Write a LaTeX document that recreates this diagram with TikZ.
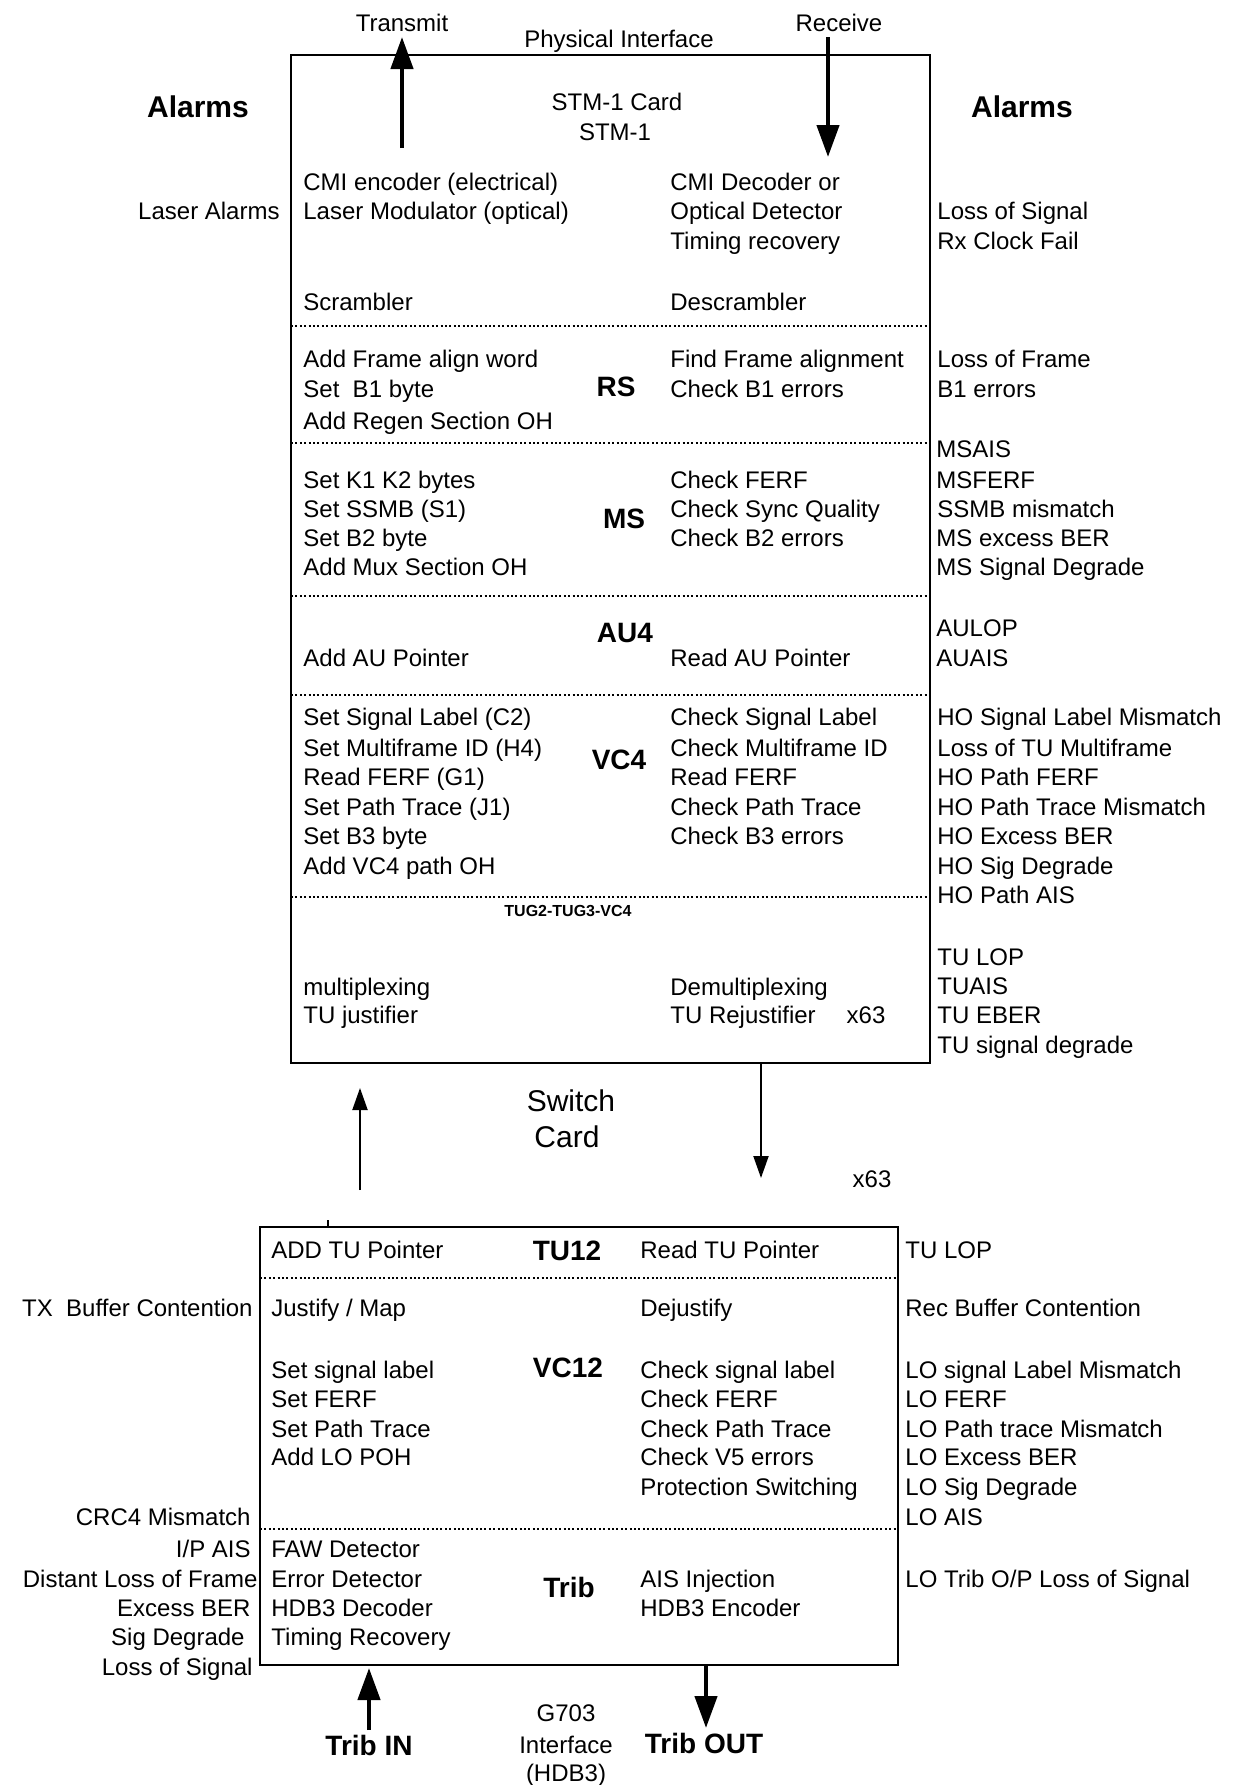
\documentclass[tikz,border=0pt]{standalone}
\usepackage{fontspec}
\setmainfont{Liberation Sans}
\usetikzlibrary{arrows.meta}
\tikzset{
  txt/.style={inner sep=0pt, font=\fontsize{12}{14}\selectfont, yshift=-4.3pt},
  lt/.style={txt, anchor=base west},
  rt/.style={txt, anchor=base east},
  ct/.style={txt, anchor=base},
  sect/.style={inner sep=0pt, anchor=base, font=\fontsize{14}{16}\selectfont\bfseries, yshift=-5pt},
  big/.style={inner sep=0pt, anchor=base, font=\fontsize{15}{17}\selectfont\bfseries, yshift=-5.4pt},
  card/.style={inner sep=0pt, anchor=base, font=\fontsize{15}{17}\selectfont, yshift=-5.4pt},
  tinylbl/.style={inner sep=0pt, anchor=base, font=\fontsize{8}{9}\selectfont\bfseries, yshift=-2.9pt},
  boxnode/.style={draw, line width=1pt, inner sep=0pt, outer sep=0pt},
  sepline/.style={line width=0.6pt, dash pattern=on 1pt off 1.2pt},
  fat/.style={line width=2.2pt, -{Triangle[length=16pt,width=11pt]}},
  slim/.style={line width=1pt, -{Triangle[length=11pt,width=7.5pt]}},
}
\begin{document}
\begin{tikzpicture}[x=0.5pt,y=-0.5pt]
\useasboundingbox (0,0) rectangle (1245,1785);

% ---------- boxes ----------
\node[boxnode, minimum width=319.5pt, minimum height=504pt] (stm) at (610.5,559) {};
\node[boxnode, minimum width=319pt, minimum height=219pt] (trib) at (579,1446) {};

% separators top box
\foreach \yy in {326,443,596,695,897}
  \draw[sepline] (stm.west |- 0,\yy) -- (stm.east |- 0,\yy);
% separators bottom box
\foreach \yy in {1278,1529}
  \draw[sepline] (trib.west |- 0,\yy) -- (trib.east |- 0,\yy);

% ---------- top labels ----------
\node[ct] (transmit) at (402,23) {Transmit};
\node[ct] (receive) at (839,23) {Receive};
\node[ct] (phys) at (619,39) {Physical Interface};
\node[big] (alarmsL) at (198,107) {Alarms};
\node[big] (alarmsR) at (1022,107) {Alarms};
\node[ct] (stmcard) at (617,102) {STM-1 Card};
\node[ct] (stmone) at (615,132) {STM-1};

% arrows top
\coordinate (txs) at (402,148);
\coordinate (txe) at (402,37);
\draw[fat] (txs) -- (txe);
\coordinate (rxs) at (828,37);
\coordinate (rxe) at (828,157);
\draw[fat] (rxs) -- (rxe);

% ---------- top box, left column ----------
\node[lt] (l1) at (303,182) {CMI encoder (electrical)};
\node[lt] (l2) at (303,211) {Laser Modulator (optical)};
\node[lt] (l3) at (303,302) {Scrambler};
\node[lt] (l4) at (303,359) {Add Frame align word};
\node[lt] (l5) at (303,389) {Set\ \ B1 byte};
\node[lt] (l6) at (303,421) {Add Regen Section OH};
\node[lt] (l7) at (303,480) {Set K1 K2 bytes};
\node[lt] (l8) at (303,509) {Set SSMB (S1)};
\node[lt] (l9) at (303,538) {Set B2 byte};
\node[lt] (l10) at (303,567) {Add Mux Section OH};
\node[lt] (l11) at (303,658) {Add AU Pointer};
\node[lt] (l12) at (303,717) {Set Signal Label (C2)};
\node[lt] (l13) at (303,748) {Set Multiframe ID (H4)};
\node[lt] (l14) at (303,777) {Read FERF (G1)};
\node[lt] (l15) at (303,807) {Set Path Trace (J1)};
\node[lt] (l16) at (303,836) {Set B3 byte};
\node[lt] (l17) at (303,866) {Add VC4 path OH};
\node[lt] (l18) at (303,987) {multiplexing};
\node[lt] (l19) at (303,1015) {TU justifier};

% ---------- top box, right column ----------
\node[lt] (r1) at (670,182) {CMI Decoder or};
\node[lt] (r2) at (670,211) {Optical Detector};
\node[lt] (r3) at (670,241) {Timing recovery};
\node[lt] (r4) at (670,302) {Descrambler};
\node[lt] (r5) at (670,359) {Find Frame alignment};
\node[lt] (r6) at (670,389) {Check B1 errors};
\node[lt] (r7) at (670,480) {Check FERF};
\node[lt] (r8) at (670,509) {Check Sync Quality};
\node[lt] (r9) at (670,538) {Check B2 errors};
\node[lt] (r10) at (670,658) {Read AU Pointer};
\node[lt] (r11) at (670,717) {Check Signal Label};
\node[lt] (r12) at (670,748) {Check Multiframe ID};
\node[lt] (r13) at (670,777) {Read FERF};
\node[lt] (r14) at (670,807) {Check Path Trace};
\node[lt] (r15) at (670,836) {Check B3 errors};
\node[lt] (r16) at (670,987) {Demultiplexing};
\node[lt] (r17) at (670,1015) {TU Rejustifier};
\node[ct] (r18) at (866,1015) {x63};

% section labels top box
\node[sect] (rs) at (616,386) {RS};
\node[sect] (ms) at (624,518) {MS};
\node[sect] (au4) at (625,632) {AU4};
\node[sect] (vc4) at (619,759) {VC4};
\node[tinylbl] (tug) at (568,911) {TUG2-TUG3-VC4};

% ---------- top right alarms ----------
\node[lt] (a1) at (937,211) {Loss of Signal};
\node[lt] (a2) at (937,241) {Rx Clock Fail};
\node[lt] (a3) at (937,359) {Loss of Frame};
\node[lt] (a4) at (937,389) {B1 errors};
\node[lt] (a5) at (936,449) {MSAIS};
\node[lt] (a6) at (936,480) {MSFERF};
\node[lt] (a7) at (937,509) {SSMB mismatch};
\node[lt] (a8) at (936,538) {MS excess BER};
\node[lt] (a9) at (936,567) {MS Signal Degrade};
\node[lt] (a10) at (936,628) {AULOP};
\node[lt] (a11) at (936,658) {AUAIS};
\node[lt] (a12) at (937,717) {HO Signal Label Mismatch};
\node[lt] (a13) at (937,748) {Loss of TU Multiframe};
\node[lt] (a14) at (937,777) {HO Path FERF};
\node[lt] (a15) at (937,807) {HO Path Trace Mismatch};
\node[lt] (a16) at (937,836) {HO Excess BER};
\node[lt] (a17) at (937,866) {HO Sig Degrade};
\node[lt] (a18) at (937,895) {HO Path AIS};
\node[lt] (a19) at (937,957) {TU LOP};
\node[lt] (a20) at (937,986) {TUAIS};
\node[lt] (a21) at (937,1015) {TU EBER};
\node[lt] (a22) at (937,1045) {TU signal degrade};

\node[rt] (laser) at (280,211) {Laser Alarms};

% ---------- switch card ----------
\node[card] (switch) at (571,1101) {Switch};
\node[card] (cardl) at (567,1137) {Card};
\node[ct] (x63b) at (872,1179) {x63};
\coordinate (ups) at (360,1190);
\coordinate (upe) at (360,1088);
\draw[slim] (ups) -- (upe);
\coordinate (dns) at (761,1063);
\coordinate (dne) at (761,1178);
\draw[slim] (dns) -- (dne);
\coordinate (tick) at (328,1220);
\draw[line width=1pt] (tick) -- (tick |- trib.north);

% ---------- bottom box ----------
\node[sect] (tu12) at (567,1250) {TU12};
\node[sect] (vc12) at (568,1367) {VC12};
\node[sect] (tribl) at (569,1587) {Trib};

\node[lt] (bl1) at (271,1250) {ADD TU Pointer};
\node[lt] (bl2) at (271,1308) {Justify / Map};
\node[lt] (bl3) at (271,1370) {Set signal label};
\node[lt] (bl4) at (271,1399) {Set FERF};
\node[lt] (bl5) at (271,1429) {Set Path Trace};
\node[lt] (bl6) at (271,1457) {Add LO POH};
\node[lt] (bl7) at (271,1549) {FAW Detector};
\node[lt] (bl8) at (271,1579) {Error Detector};
\node[lt] (bl9) at (271,1608) {HDB3 Decoder};
\node[lt] (bl10) at (271,1637) {Timing Recovery};

\node[lt] (br1) at (640,1250) {Read TU Pointer};
\node[lt] (br2) at (640,1308) {Dejustify};
\node[lt] (br3) at (640,1370) {Check signal label};
\node[lt] (br4) at (640,1399) {Check FERF};
\node[lt] (br5) at (640,1429) {Check Path Trace};
\node[lt] (br6) at (640,1457) {Check V5 errors};
\node[lt] (br7) at (640,1487) {Protection Switching};
\node[lt] (br8) at (640,1579) {AIS Injection};
\node[lt] (br9) at (640,1608) {HDB3 Encoder};

\node[lt] (ba1) at (905,1250) {TU LOP};
\node[lt] (ba2) at (905,1308) {Rec Buffer Contention};
\node[lt] (ba3) at (905,1370) {LO signal Label Mismatch};
\node[lt] (ba4) at (905,1399) {LO FERF};
\node[lt] (ba5) at (905,1429) {LO Path trace Mismatch};
\node[lt] (ba6) at (905,1457) {LO Excess BER};
\node[lt] (ba7) at (905,1487) {LO Sig Degrade};
\node[lt] (ba8) at (905,1517) {LO AIS};
\node[lt] (ba9) at (905,1579) {LO Trib O/P Loss of Signal};

\node[rt] (la1) at (253,1308) {TX\ \ Buffer Contention};
\node[rt] (la2) at (251,1517) {CRC4 Mismatch};
\node[rt] (la3) at (251,1549) {I/P AIS};
\node[rt] (la4) at (258,1579) {Distant Loss of Frame};
\node[rt] (la5) at (251,1608) {Excess BER};
\node[rt] (la6) at (245,1637) {Sig Degrade};
\node[rt] (la7) at (253,1667) {Loss of Signal};

% ---------- bottom arrows and labels ----------
\node[sect] (tribin) at (369,1745) {Trib IN};
\node[sect] (tribout) at (704,1743) {Trib OUT};
\node[ct] (g703) at (566,1713) {G703};
\node[ct] (iface) at (566,1745) {Interface};
\node[ct] (hdb3) at (566,1773) {(HDB3)};
\coordinate (tis) at (369,1730);
\coordinate (tie) at (369,1668);
\draw[fat] (tis) -- (tie);
\coordinate (tos) at (706,1665);
\coordinate (toe) at (706,1728);
\draw[fat] (tos) -- (toe);
\end{tikzpicture}
\end{document}
